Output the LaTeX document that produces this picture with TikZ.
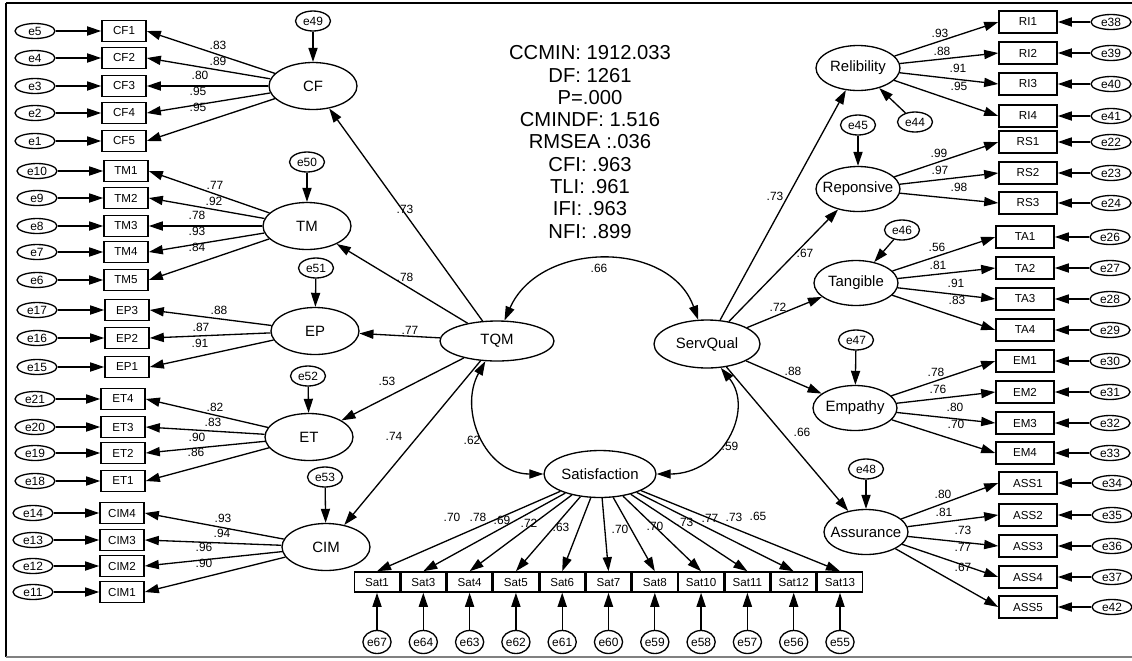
\documentclass[tikz,border=0pt]{standalone}
\usepackage{fontspec}
\setmainfont{Liberation Sans}
\usetikzlibrary{arrows.meta,shapes.geometric}

\tikzset{
  latent/.style={draw, ellipse, line width=0.75pt, inner xsep=-4pt, inner ysep=0pt,
    minimum width=1.68cm, minimum height=0.9cm, font=\fontsize{8.5}{10}\selectfont},
  obsbox/.style={draw, rectangle, line width=0.9pt, inner sep=0pt,
    minimum width=0.88cm, minimum height=0.42cm, font=\fontsize{6.6}{7}\selectfont},
  rbox/.style={obsbox, minimum width=1.16cm, minimum height=0.44cm},
  satbox/.style={obsbox, minimum width=0.9cm, minimum height=0.4cm},
  errnode/.style={draw, ellipse, line width=0.75pt, inner sep=0pt,
    minimum width=0.8cm, minimum height=0.3cm, font=\fontsize{6.8}{7}\selectfont},
  distnode/.style={errnode, minimum width=0.7cm, minimum height=0.4cm},
  saterr/.style={errnode, minimum width=0.52cm, minimum height=0.46cm},
  coef/.style={inner sep=0pt, font=\fontsize{6.8}{7}\selectfont},
  arr/.style={line width=0.75pt, -{Triangle[length=8pt,width=5.2pt]}},
  covarr/.style={line width=0.75pt, {Triangle[length=8pt,width=5.2pt]}-{Triangle[length=8pt,width=5.2pt]}},
}

\begin{document}
\begin{tikzpicture}[x=0.02cm, y=-0.02cm]
  \useasboundingbox (0,0) rectangle (1132,660);

  % frame
  \draw[line width=1.4pt] (6,3) -- (1132,3);
  \draw[line width=1.2pt] (6,3) -- (6,657);
  \draw[gray, line width=0.6pt] (6,657) -- (1132,657);

  % fit indices
  \node[align=center, font=\fontsize{11.5}{12.7}\selectfont] (fit) at (590,142)
    {CCMIN: 1912.033\\DF: 1261\\P=.000\\CMINDF: 1.516\\RMSEA :.036\\CFI: .963\\TLI: .961\\IFI: .963\\NFI: .899};

  % second order factors
  \node[latent, minimum width=2.28cm, minimum height=0.8cm] (tqm) at (497,341) {TQM};
  \node[latent, minimum width=2.12cm, minimum height=0.96cm] (sq) at (707,344) {ServQual};
  \node[latent, minimum width=2.24cm, minimum height=0.94cm] (satis) at (600,474) {Satisfaction};

  % TQM dimensions
  \node[latent, minimum width=1.76cm, minimum height=0.94cm] (cf) at (313,86) {CF};
  \node[latent, minimum width=1.76cm, minimum height=0.94cm] (tm) at (307,226) {TM};
  \node[latent, minimum width=1.76cm, minimum height=0.94cm] (ep) at (315,331) {EP};
  \node[latent, minimum width=1.76cm, minimum height=0.94cm] (et) at (309,437) {ET};
  \node[latent, minimum width=1.76cm, minimum height=0.94cm] (cim) at (326,547) {CIM};

  \node[distnode] (e49) at (313,21) {e49};
  \node[distnode] (e50) at (307,162) {e50};
  \node[distnode] (e51) at (316,268) {e51};
  \node[distnode] (e52) at (308,376) {e52};
  \node[distnode] (e53) at (325,477) {e53};
  \draw[arr] (e49) -- (cf);
  \draw[arr] (e50) -- (tm);
  \draw[arr] (e51) -- (ep);
  \draw[arr] (e52) -- (et);
  \draw[arr] (e53) -- (cim);

  % ServQual dimensions
  \node[latent] (rel) at (858,68) {Relibility};
  \node[latent] (rep) at (858,189) {Reponsive};
  \node[latent] (tan) at (856,283) {Tangible};
  \node[latent] (emp) at (855,408) {Empathy};
  \node[latent] (ass) at (866,532) {Assurance};

  \node[distnode] (e44) at (915,122) {e44};
  \node[distnode] (e45) at (858,125) {e45};
  \node[distnode] (e46) at (902,230) {e46};
  \node[distnode] (e47) at (856,340) {e47};
  \node[distnode] (e48) at (866,469) {e48};
  \draw[arr] (e44) -- (rel);
  \draw[arr] (e45) -- (rep);
  \draw[arr] (e46) -- (tan);
  \draw[arr] (e47) -- (emp);
  \draw[arr] (e48) -- (ass);

  % structural paths
  \draw[arr] (tqm) -- (cf);
  \draw[arr] (tqm) -- (tm);
  \draw[arr] (tqm) -- (ep);
  \draw[arr] (tqm) -- (et);
  \draw[arr] (tqm) -- (cim);
  \draw[arr] (sq) -- (rel);
  \draw[arr] (sq) -- (rep);
  \draw[arr] (sq) -- (tan);
  \draw[arr] (sq) -- (emp);
  \draw[arr] (sq) -- (ass);

  % covariances
  \draw[covarr] (tqm.70) .. controls (540,240) and (670,240) .. (sq.110);
  \draw[covarr] (tqm.240) .. controls (458,410) and (485,474) .. (satis.west);
  \draw[covarr] (sq.300) .. controls (755,410) and (722,474) .. (satis.east);

  % indicators, left
  \foreach \n/\ei/\y in {1/5/31,2/4/58,3/3/86,4/2/113,5/1/141}{
    \node[obsbox] (cf\n) at (124,\y) {CF\n};
    \node[errnode] (e\ei) at (35,\y) {e\ei};
    \draw[arr] (e\ei) -- (cf\n);
    \draw[arr] (cf) -- (cf\n.east);
  }
  \foreach \n/\ei/\y in {1/10/171,2/9/198,3/8/226,4/7/252,5/6/280}{
    \node[obsbox] (tm\n) at (126,\y) {TM\n};
    \node[errnode] (e\ei) at (37,\y) {e\ei};
    \draw[arr] (e\ei) -- (tm\n);
    \draw[arr] (tm) -- (tm\n.east);
  }
  \foreach \n/\ei/\y in {3/17/310,2/16/338,1/15/367}{
    \node[obsbox] (ep\n) at (127,\y) {EP\n};
    \node[errnode] (e\ei) at (37,\y) {e\ei};
    \draw[arr] (e\ei) -- (ep\n);
    \draw[arr] (ep) -- (ep\n.east);
  }
  \foreach \n/\ei/\y in {4/21/399,3/20/427,2/19/453,1/18/481}{
    \node[obsbox] (et\n) at (123,\y) {ET\n};
    \node[errnode] (e\ei) at (35,\y) {e\ei};
    \draw[arr] (e\ei) -- (et\n);
    \draw[arr] (et) -- (et\n.east);
  }
  \foreach \n/\ei/\y in {4/14/513,3/13/540,2/12/566,1/11/592}{
    \node[obsbox] (cim\n) at (122,\y) {CIM\n};
    \node[errnode] (e\ei) at (33,\y) {e\ei};
    \draw[arr] (e\ei) -- (cim\n);
    \draw[arr] (cim) -- (cim\n.east);
  }

  % indicators, right
  \foreach \n/\ei/\y in {1/38/22,2/39/53,3/40/84,4/41/116}{
    \node[rbox] (ri\n) at (1028,\y) {RI\n};
    \node[errnode] (e\ei) at (1111,\y) {e\ei};
    \draw[arr] (e\ei) -- (ri\n);
    \draw[arr] (rel) -- (ri\n.west);
  }
  \foreach \n/\ei/\y in {1/22/142,2/23/173,3/24/203}{
    \node[rbox] (rs\n) at (1028,\y) {RS\n};
    \node[errnode] (e\ei) at (1111,\y) {e\ei};
    \draw[arr] (e\ei) -- (rs\n);
    \draw[arr] (rep) -- (rs\n.west);
  }
  \foreach \n/\ei/\y in {1/26/237,2/27/268,3/28/299,4/29/330}{
    \node[rbox] (ta\n) at (1025,\y) {TA\n};
    \node[errnode] (e\ei) at (1110,\y) {e\ei};
    \draw[arr] (e\ei) -- (ta\n);
    \draw[arr] (tan) -- (ta\n.west);
  }
  \foreach \n/\ei/\y in {1/30/361,2/31/392,3/32/423,4/33/453}{
    \node[rbox] (em\n) at (1025,\y) {EM\n};
    \node[errnode] (e\ei) at (1110,\y) {e\ei};
    \draw[arr] (e\ei) -- (em\n);
    \draw[arr] (emp) -- (em\n.west);
  }
  \foreach \n/\ei/\y in {1/34/483,2/35/515,3/36/546,4/37/577,5/42/607}{
    \node[rbox] (ass\n) at (1028,\y) {ASS\n};
    \node[errnode] (e\ei) at (1112,\y) {e\ei};
    \draw[arr] (e\ei) -- (ass\n);
    \draw[arr] (ass) -- (ass\n.west);
  }

  % satisfaction items
  \foreach \n/\ei [count=\i from 0] in {1/67,3/64,4/63,5/62,6/61,7/60,8/59,10/58,11/57,12/56,13/55}{
    \node[satbox] (sat\n) at ({377+46.3*\i},582) {Sat\n};
    \node[saterr] (e\ei) at ({377+46.3*\i},642) {e\ei};
    \draw[arr] (e\ei) -- (sat\n.south);
    \draw[arr] (satis) -- (sat\n.north);
  }

  % estimates
  \foreach \v/\x/\y [count=\k] in {.83/218/45,.89/218/61,.80/200/75,.95/198/91,.95/198/107,
      .77/215/185,.92/214/201,.78/197/215,.93/197/231,.84/197/247,
      .88/219/310,.87/201/327,.91/200/343,
      .82/215/407,.83/213/422,.90/197/437,.86/196/452,
      .93/223/518,.94/222/533,.96/204/547,.90/204/563}
    \node[coef] (lw\k) at (\x,\y) {\v};
  \foreach \v/\x/\y [count=\k] in {.93/940/33,.88/942/51,.91/958/68,.95/959/86,
      .99/939/153,.97/940/170,.98/959/187,
      .56/937/247,.81/938/265,.91/956/283,.83/957/300,
      .78/936/372,.76/938/389,.80/955/407,.70/956/424,
      .80/943/494,.81/944/512,.73/963/530,.77/963/547,.67/963/567}
    \node[coef] (le\k) at (\x,\y) {\v};
  \foreach \v/\x/\y [count=\k] in {.73/405/209,.78/405/277,.77/410/330,.53/387/381,.74/394/436,
      .73/775/196,.67/805/253,.72/778/307,.88/793/371,.66/802/432,
      .66/599/268,.62/472/440,.59/730/446}
    \node[coef] (ls\k) at (\x,\y) {\v};
  \foreach \v/\x/\y [count=\k] in {.70/452/517,.78/478/517,.69/502/520,.72/529/523,.63/561/527,
      .70/620/529,.70/655/526,.73/685/522,.77/710/518,.73/734/517,.65/758/516}
    \node[coef] (lt\k) at (\x,\y) {\v};
\end{tikzpicture}
\end{document}
